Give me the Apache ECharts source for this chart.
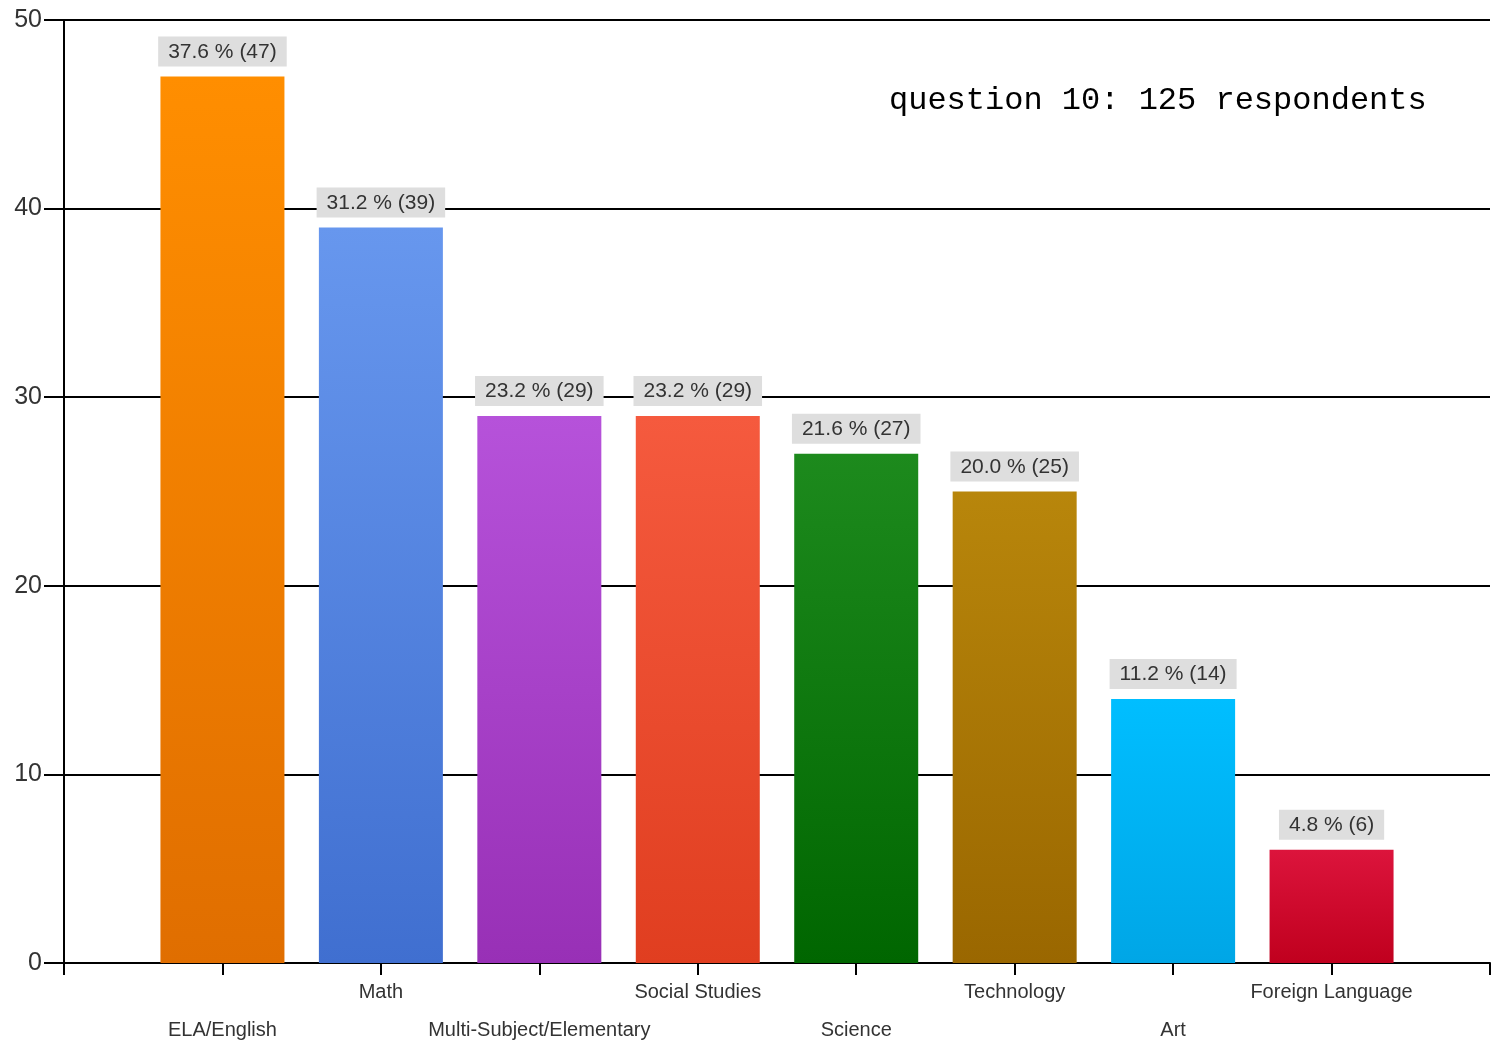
<!DOCTYPE html>
<html>
<head>
<meta charset="utf-8">
<script src="https://cdn.jsdelivr.net/npm/echarts@6/dist/echarts.min.js"></script>
<style>html,body{margin:0;padding:0;background:#fff;}#c{width:1499px;height:1041px;}</style>
</head>
<body>
<div id="c"></div>
<script>
const categories = ['ELA/English','Math','Multi-Subject/Elementary','Social Studies','Science','Technology','Art','Foreign Language'];
const counts = [47, 39, 29, 29, 27, 25, 14, 6];
const percents = ['37.6','31.2','23.2','23.2','21.6','20.0','11.2','4.8'];
const topColors = ['#ff8e00','#6797ee','#b652da','#f55a3e','#1d8a1d','#b8860b','#00beff','#dc143c'];
const bottomColors = ['#e06e00','#406fd0','#9830b6','#e03e20','#006600','#9a6700','#00a6e6','#c0001e'];
const yTicks = [0,10,20,30,40,50];
const titleText = 'question 10: 125 respondents';

const data = counts.map((v, i) => ({
  value: [i + 1, v],
  itemStyle: {
    color: new echarts.graphic.LinearGradient(0, 0, 0, 1, [
      {offset: 0, color: topColors[i]},
      {offset: 1, color: bottomColors[i]}
    ])
  },
  label: {formatter: percents[i] + ' % (' + v + ')'}
}));

const chart = echarts.init(document.getElementById('c'), null, {renderer: 'canvas'});
chart.setOption({
  animation: false,
  backgroundColor: '#fff',
  title: {
    text: titleText,
    left: 884, top: 80,
    textStyle: {fontFamily: 'Liberation Mono', fontSize: 32, fontWeight: 'normal', color: '#000'}
  },
  grid: {left: 64, right: 9, top: 20, bottom: 78, outerBoundsMode: 'none', containLabel: false},
  xAxis: {
    type: 'value', min: 0, max: categories.length + 1, interval: 1,
    axisLine: {show: true, lineStyle: {color: '#000', width: 2}},
    axisTick: {show: true, length: 12, lineStyle: {color: '#000', width: 2}},
    splitLine: {show: false},
    axisLabel: {
      margin: 10, color: '#333', fontSize: 20, fontFamily: 'Liberation Sans', lineHeight: 38,
      verticalAlign: 'top',
      formatter: function (v) {
        const i = Math.round(v) - 1;
        if (i < 0 || i >= categories.length) return '';
        return i % 2 === 0 ? '\n' + categories[i] : categories[i];
      }
    }
  },
  yAxis: {
    type: 'value', min: yTicks[0], max: yTicks[yTicks.length - 1], interval: 10,
    axisLine: {show: true, lineStyle: {color: '#000', width: 2}},
    axisTick: {show: true, length: 20, lineStyle: {color: '#000', width: 2}},
    splitLine: {show: true, lineStyle: {color: '#000', width: 2}},
    axisLabel: {margin: 22, color: '#333', fontSize: 25, fontFamily: 'Liberation Sans'}
  },
  series: [{
    type: 'bar',
    data: data,
    barWidth: 124,
    label: {
      show: true, position: 'top', distance: 10,
      color: '#333', fontSize: 21, fontFamily: 'Liberation Sans',
      backgroundColor: '#dedede', padding: [5, 10, 4, 10]
    }
  }]
});
</script>
</body>
</html>
